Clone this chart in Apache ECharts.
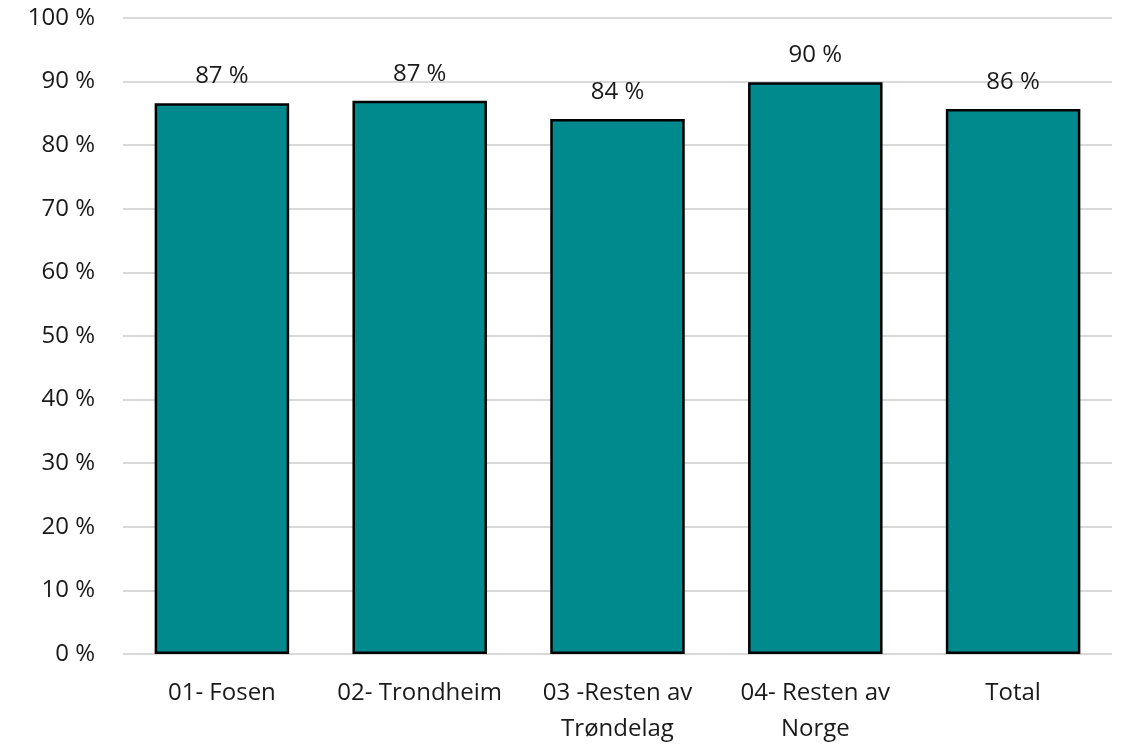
<!DOCTYPE html>
<html>
<head>
<meta charset="utf-8">
<script src="https://cdn.jsdelivr.net/npm/echarts@6/dist/echarts.min.js"></script>
<style>
	html, body { margin: 0; padding: 0; background: #fff; }
	#chart { width: 1122px; height: 746px; }
</style>
</head>
<body>
<div id="chart"></div>
<script>
	// kategorier og verdier (andel i prosent)
	const categories = ['01- Fosen', '02- Trondheim', '03 -Resten av\nTrøndelag', '04- Resten av\nNorge', 'Total'];
	const values = [86.6, 87.0, 84.1, 89.9, 85.7];

	const myChart = echarts.init(document.getElementById('chart'));
	const font = '"Open Sans", "Noto Sans", sans-serif';

	myChart.setOption({
		animation: false,
		grid: {
			left: 123,
			right: 10,
			top: 18,
			bottom: 92,
			containLabel: false,
			outerBoundsMode: 'none'
		},
		xAxis: {
			type: 'category',
			data: categories,
			axisLine: { show: false },
			axisTick: { show: false },
			axisLabel: {
				color: '#1a1a1a',
				fontSize: 24,
				fontFamily: font,
				margin: 21,
				lineHeight: 36,
				interval: 0
			}
		},
		yAxis: {
			type: 'value',
			min: 0,
			max: 100,
			interval: 10,
			axisLine: { show: false },
			axisTick: { show: false },
			axisLabel: {
				color: '#1a1a1a',
				fontSize: 24,
				fontFamily: font,
				margin: 28,
				formatter: v => v + ' %'
			},
			splitLine: {
				lineStyle: { color: '#d9d9d9', width: 2 }
			}
		},
		series: [{
			type: 'bar',
			data: values,
			barWidth: '68%',
			itemStyle: {
				color: '#008a8e',
				borderColor: '#000',
				borderWidth: 2.5
			},
			label: {
				show: true,
				position: 'top',
				distance: 15,
				color: '#1a1a1a',
				fontSize: 24,
				fontFamily: font,
				formatter: p => Math.round(p.value) + ' %'
			}
		}]
	});
</script>
</body>
</html>
